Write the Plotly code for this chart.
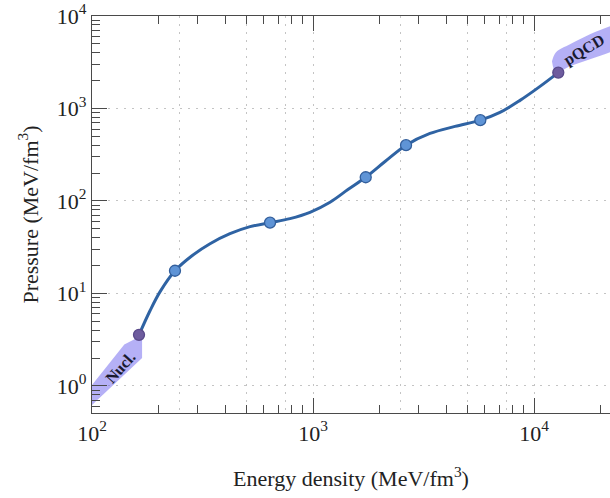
import numpy as np
import plotly.graph_objects as go

# --- equation of state: energy density vs pressure (MeV/fm^3) ---
# points
curve_e = [163.2, 183, 203, 237.4, 283.5, 342, 421, 519, 639, 787, 969, 1194, 1439,
           1732, 2118, 2636, 3383, 4390, 5715, 7015, 8644, 10650, 12880]
curve_p = [3.57, 6.5, 10.4, 17.6, 25.6, 34.5, 44.3, 52.8, 58.3, 64.5, 75.5, 97, 133,
           180.6, 267, 401, 537, 640, 748, 907, 1224, 1735, 2443]

# matching nodes (blue) and the two end points joining the known limits (purple)
node_e = [237.4, 639, 1732, 2636, 5715]
node_p = [17.6, 58.3, 180.6, 401, 748]
end_e = [163.2, 12880]
end_p = [3.57, 2443]

# nuclear (low density) band
nucl_e = [100, 120, 140, 163, 168.5]
nucl_lo = [0.622, 0.94, 1.33, 1.875, 2.01]
nucl_hi = [1.025, 1.775, 2.81, 3.39, 3.57]

# perturbative QCD (high density) band
pqcd_e = [12060, 12580, 14550, 17920, 22070, 25000]
pqcd_lo = [3240, 2460, 2858, 3404, 4055, 4500]
pqcd_hi = [3240, 4055, 4948, 6350, 7755, 8600]

x_ticks = [100, 1000, 10000]
x_ticktext = ["10<sup>2</sup>", "10<sup>3</sup>", "10<sup>4</sup>"]
y_ticks = [1, 10, 100, 1000, 10000]
y_ticktext = ["10<sup>0</sup>", "10<sup>1</sup>", "10<sup>2</sup>", "10<sup>3</sup>", "10<sup>4</sup>"]
x_grid = [250, 500, 750, 1000, 2500, 5000, 7500, 10000, 25000]

FONT = "Liberation Serif"
AXIS = "#4a4a4a"
BAND = "rgba(120,112,238,0.55)"
GRID = dict(showgrid=True, gridcolor="#c4c4c4", griddash="2px,6px", gridwidth=1.3)

minor_x = [m * 10 ** k for k in range(2, 5) for m in range(2, 10)]
minor_y = [m * 10 ** k for k in range(-1, 4) for m in range(2, 10)]

fig = go.Figure()

fig.add_trace(go.Scatter(x=nucl_e, y=nucl_lo, mode="lines", line=dict(width=0),
                         hoverinfo="skip", showlegend=False))
fig.add_trace(go.Scatter(x=nucl_e, y=nucl_hi, mode="lines", line=dict(width=0),
                         fill="tonexty", fillcolor=BAND, hoverinfo="skip", showlegend=False))
fig.add_trace(go.Scatter(x=pqcd_e, y=pqcd_lo, mode="lines", line=dict(width=0, shape="spline"),
                         hoverinfo="skip", showlegend=False))
fig.add_trace(go.Scatter(x=pqcd_e, y=pqcd_hi, mode="lines", line=dict(width=0, shape="spline"),
                         fill="tonexty", fillcolor=BAND, hoverinfo="skip", showlegend=False))

fig.add_trace(go.Scatter(x=curve_e, y=curve_p, mode="lines",
                         line=dict(color="#2f63a3", width=3, shape="spline", smoothing=1.0),
                         showlegend=False))
fig.add_trace(go.Scatter(x=node_e, y=node_p, mode="markers",
                         marker=dict(size=11, color="#5f94d6", line=dict(color="#335f9c", width=1.3)),
                         showlegend=False))
fig.add_trace(go.Scatter(x=end_e, y=end_p, mode="markers",
                         marker=dict(size=11, color="#6e5c9e", line=dict(color="#594a8a", width=1.3)),
                         showlegend=False))

# dotted helper axis carrying the vertical grid lines
fig.add_trace(go.Scatter(x=[x_grid[0]], y=[1], xaxis="x2", mode="markers",
                         marker=dict(opacity=0), hoverinfo="skip", showlegend=False))

xr = [2, 2 + 518 / 221]
yr = [np.log10(0.51), 4]

fig.update_layout(
    width=610, height=498,
    margin=dict(l=92, r=0, t=16, b=85),
    paper_bgcolor="white", plot_bgcolor="white",
    font=dict(family=FONT, color="#222222"),
    xaxis=dict(type="log", range=xr, tickmode="array", tickvals=x_ticks, ticktext=x_ticktext,
               tickfont=dict(size=22, family=FONT, color="#222"),
               ticks="inside", ticklen=15, tickwidth=1.3, tickcolor=AXIS,
               showline=True, linecolor=AXIS, linewidth=1.3, mirror="ticks",
               showgrid=False, zeroline=False,
               minor=dict(tickmode="array", tickvals=minor_x, ticks="inside", ticklen=8,
                          tickwidth=1.1, tickcolor=AXIS, showgrid=False),
               title=dict(text="Energy density (MeV/fm<sup>3</sup>)",
                          font=dict(size=22, family=FONT, color="#222"), standoff=26)),
    xaxis2=dict(type="log", range=xr, overlaying="x", anchor="y", tickmode="array",
                tickvals=x_grid, showticklabels=False, ticks="", showline=False,
                zeroline=False, **GRID),
    yaxis=dict(type="log", range=yr, tickmode="array", tickvals=y_ticks, ticktext=y_ticktext,
               tickfont=dict(size=22, family=FONT, color="#222"),
               ticks="inside", ticklen=15, tickwidth=1.3, tickcolor=AXIS,
               showline=True, linecolor=AXIS, linewidth=1.3, zeroline=False, **GRID,
               minor=dict(tickmode="array", tickvals=minor_y, ticks="inside", ticklen=8,
                          tickwidth=1.1, tickcolor=AXIS, showgrid=False),
               title=dict(text="Pressure (MeV/fm<sup>3</sup>)",
                          font=dict(size=22, family=FONT, color="#222"), standoff=12)),
)

fig.add_annotation(x=np.log10(134), y=np.log10(1.6), text="<b>Nucl.</b>", showarrow=False,
                   textangle=-48, font=dict(size=16, family=FONT, color="#1a1a30"))
fig.add_annotation(x=np.log10(16900), y=np.log10(4300), text="<b>pQCD</b>", showarrow=False,
                   textangle=-31, font=dict(size=16, family=FONT, color="#1a1a30"))

fig.write_html("out.html")
